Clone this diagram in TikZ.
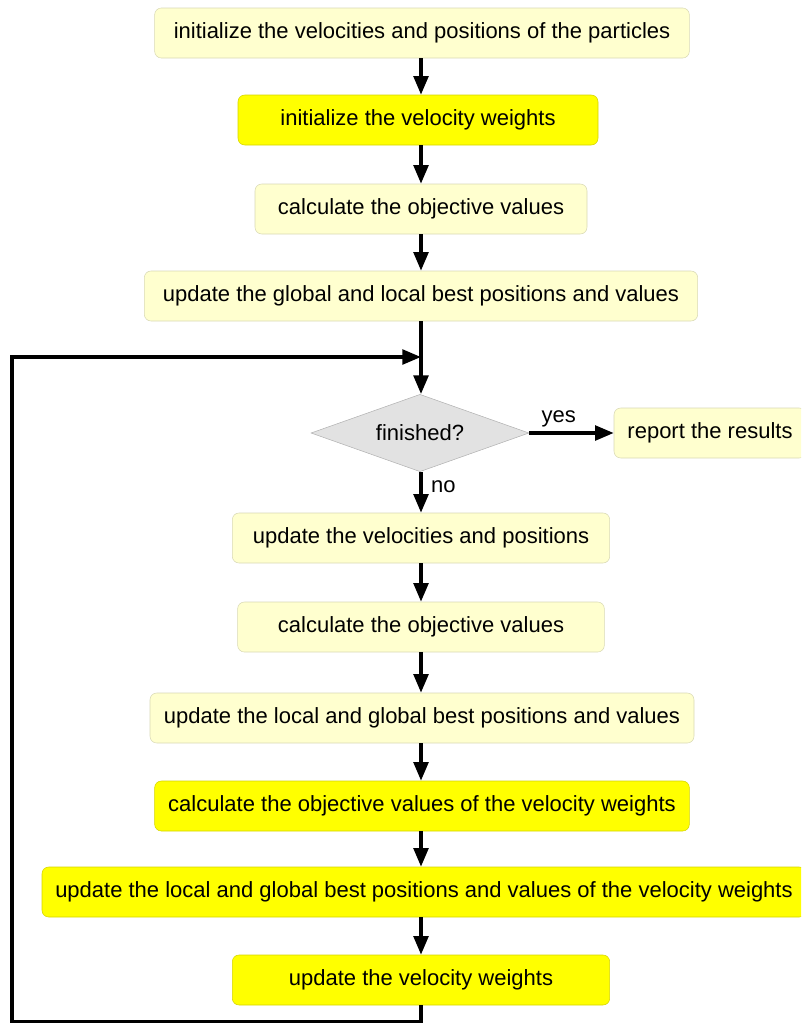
\documentclass[tikz,border=0pt]{standalone}
\usepackage{fontspec}
\setmainfont{Liberation Sans}
\usetikzlibrary{shapes.geometric,arrows.meta}

\definecolor{paleyellow}{HTML}{FFFFCF}
\definecolor{paleedge}{HTML}{D8D8B4}
\definecolor{brightyellow}{HTML}{FFFF00}
\definecolor{brightedge}{HTML}{D4D400}
\definecolor{testgray}{HTML}{E2E2E2}

\tikzset{
	stepbox/.style={draw=paleedge, fill=paleyellow, rounded corners=5pt, minimum height=37.5pt,
		inner sep=0pt, font=\fontsize{16.5pt}{20pt}\selectfont},
	weightbox/.style={stepbox, draw=brightedge, fill=brightyellow},
	testbox/.style={diamond, aspect=2.83, draw=gray!60, fill=testgray, minimum width=163.5pt,
		minimum height=58pt, inner sep=0pt, font=\fontsize{16.5pt}{20pt}\selectfont},
	flow/.style={line width=2.6pt, -{Triangle[length=14pt,width=11pt]}},
	tag/.style={font=\fontsize{16.5pt}{20pt}\selectfont}
}

\begin{document}
\begin{tikzpicture}[x=0.75pt, y=-0.75pt]
	\useasboundingbox (0,0) rectangle (801,1025);
	\clip (0,0) rectangle (801,1025);

	\node (init) [stepbox, minimum width=401pt] at (422,33) {initialize the velocities and positions of the particles};
	\node (initw) [weightbox, minimum width=270pt] at (418,120) {initialize the velocity weights};
	\node (calc) [stepbox, minimum width=249pt] at (421,209) {calculate the objective values};
	\node (best) [stepbox, minimum width=415pt] at (421,296) {update the global and local best positions and values};
	\coordinate (join) at (421,357);
	\node (test) [testbox] at (420,433) {finished?};
	\node (report) [stepbox, minimum width=144pt] at (710,433) {report the results};
	\node (move) [stepbox, minimum width=283pt] at (421,538) {update the velocities and positions};
	\node (recalc) [stepbox, minimum width=275pt] at (421,627) {calculate the objective values};
	\node (rebest) [stepbox, minimum width=408pt] at (422,718) {update the local and global best positions and values};
	\node (calcw) [weightbox, minimum width=401pt] at (422,806) {calculate the objective values of the velocity weights};
	\node (bestw) [weightbox, minimum width=573pt] at (424,892) {update the local and global best positions and values of the velocity weights};
	\node (updw) [weightbox, minimum width=283pt] at (421,980) {update the velocity weights};

	\draw [flow] (init.south -| join) -- (initw.north -| join);
	\draw [flow] (initw.south -| join) -- (calc.north -| join);
	\draw [flow] (calc) -- (best);
	\draw [flow] (best.south -| join) -- (test.north -| join);
	\draw [flow] (test.east) -- (report.west) node [tag, pos=0.35, above] (yes) {yes};
	\draw [flow] (test.south -| join) -- (move.north) node [tag, pos=0.35, right=3pt] (no) {no};
	\draw [flow] (move) -- (recalc);
	\draw [flow] (recalc.south -| join) -- (rebest.north -| join);
	\draw [flow] (rebest.south -| join) -- (calcw.north -| join);
	\draw [flow] (calcw.south -| join) -- (bestw.north -| join);
	\draw [flow] (bestw.south -| join) -- (updw.north -| join);

	% loop back to the test
	\draw [flow] (updw.south) -- ++(0,16) -| (12,357) -- (join);
\end{tikzpicture}
\end{document}
